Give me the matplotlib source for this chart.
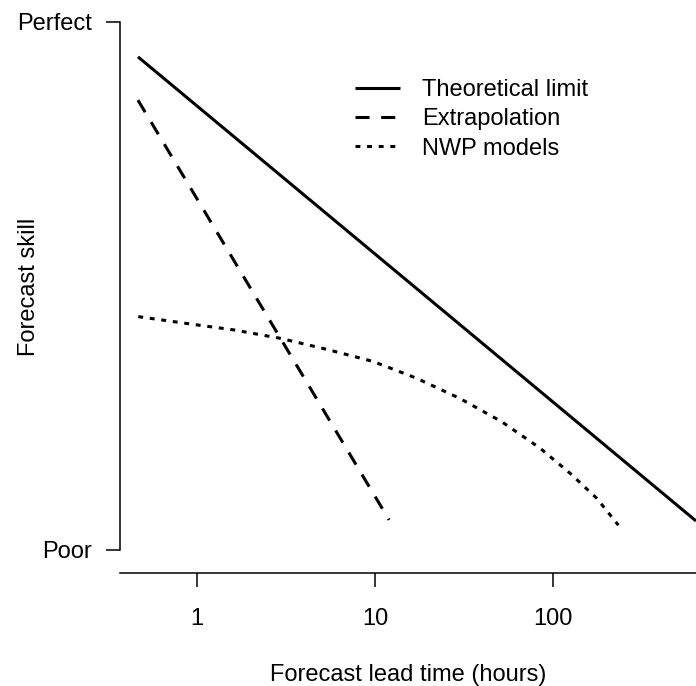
import numpy as np
import matplotlib
matplotlib.use("Agg")
import matplotlib.pyplot as plt

plt.rcParams['font.family'] = ['Liberation Sans', 'DejaVu Sans']

# lead time (hours) and skill (0 = poor, 1 = perfect)
theory_t = [0.466, 636]
theory_s = [0.934, 0.055]

extrap_t = [0.466, 12.0]
extrap_s = [0.852, 0.057]

nwp_t = [0.468, 0.875, 1.60, 2.93, 5.36, 9.78, 17.2, 30.0, 51.5, 84.5, 125, 176, 233]
nwp_s = [0.442, 0.429, 0.417, 0.401, 0.380, 0.357, 0.325, 0.287, 0.243, 0.193, 0.145, 0.098, 0.047]

x_ticks = [1, 10, 100]
x_labels = ['1', '10', '100']
y_ticks = [0, 1]
y_labels = ['Poor', 'Perfect']

W, H = 696, 686
fs = 17
fig = plt.figure(figsize=(W / 100, H / 100), dpi=100)
# plot region in pixels: left 120, right 696, top 1, bottom 573
ax = fig.add_axes([120 / W, (H - 573) / H, 576 / W, 572 / H])

lw = 2.2
ax.plot(theory_t, theory_s, color='black', lw=lw, solid_capstyle='butt',
        label='Theoretical limit')
ax.plot(extrap_t, extrap_s, color='black', lw=lw, dashes=(4.6, 3.8),
        dash_capstyle='butt', label='Extrapolation')
ax.plot(nwp_t, nwp_s, color='black', lw=lw, dashes=(1.6, 2.2),
        dash_capstyle='butt', label='NWP models')

ax.set_xscale('log')
ax.set_xlim(10 ** (-77 / 178), 10 ** (499 / 178))
ax.set_ylim(-23 / 528, 1 + 21 / 528)

ax.set_xticks(x_ticks)
ax.set_xticklabels(x_labels)
ax.xaxis.set_minor_locator(matplotlib.ticker.NullLocator())
ax.set_yticks(y_ticks)
ax.set_yticklabels(y_labels)

for s in ['top', 'right']:
    ax.spines[s].set_visible(False)
ax.spines['left'].set_bounds(0, 1)
ax.spines['left'].set_linewidth(1.1)
ax.spines['bottom'].set_linewidth(1.1)
ax.tick_params(axis='both', direction='out', length=10, width=1.1,
               labelsize=fs, pad=10)
ax.tick_params(axis='x', pad=15)

# axis titles placed in figure pixels
fig.text(408 / W, (H - 681) / H, 'Forecast lead time (hours)', fontsize=fs,
         ha='center', va='baseline')
fig.text(29 / W, (H - 287) / H, 'Forecast skill', fontsize=fs,
         rotation=90, ha='center', va='center')

ax.legend(loc='upper left', bbox_to_anchor=((355 - 120) / 576, (573 - 79) / 572),
          frameon=False, fontsize=fs, handlelength=1.9, handletextpad=0.93,
          labelspacing=0.31, borderaxespad=0, borderpad=0)

fig.savefig('out.png', dpi=100)
